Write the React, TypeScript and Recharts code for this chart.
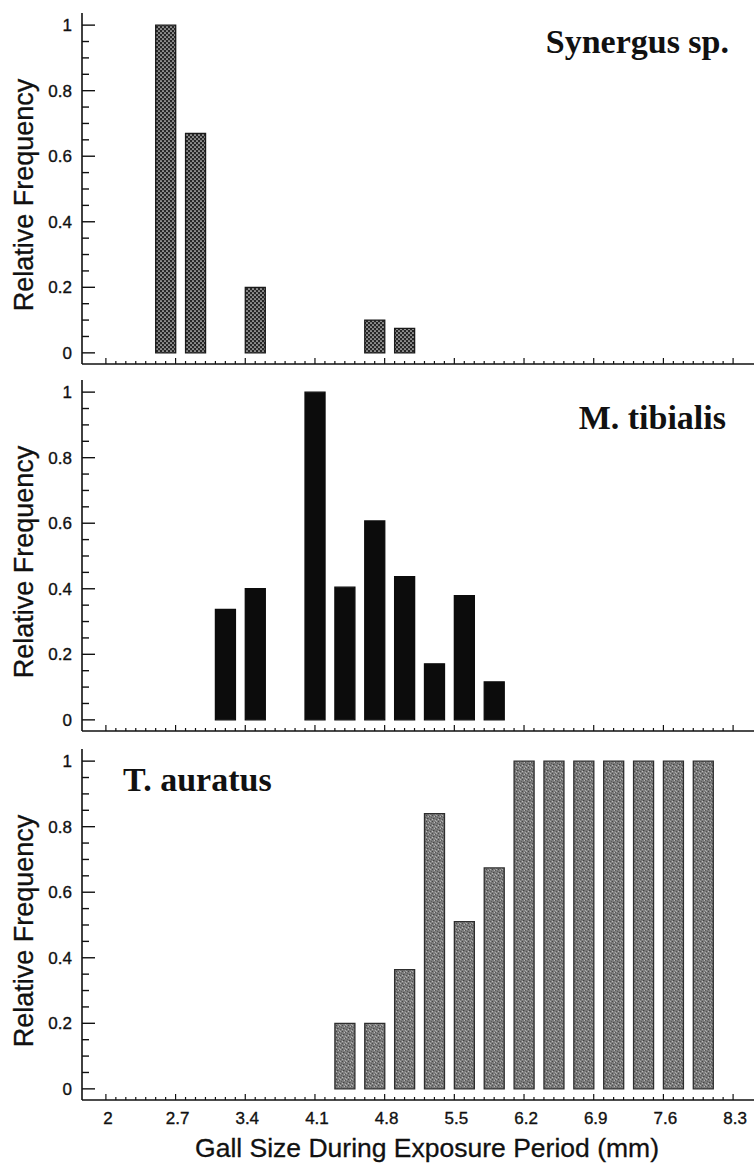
import React from 'react';
import { BarChart, Bar, XAxis, YAxis } from 'recharts';

// axis ticks (gall size in mm, relative frequency)
const sizeMajorTicks = [2, 2.7, 3.4, 4.1, 4.8, 5.5, 6.2, 6.9, 7.6, 8.3];
const sizeAllTicks = Array.from({ length: 64 }, (_, i) => +(2 + i * 0.1).toFixed(1));
const freqMajorTicks = [0, 0.2, 0.4, 0.6, 0.8, 1];
const freqAllTicks = Array.from({ length: 21 }, (_, i) => +(i * 0.05).toFixed(2));

// Synergus sp.
const synergusSize = [2.6, 2.9, 3.5, 4.7, 5.0];
const synergusFreq = [1.0, 0.67, 0.2, 0.1, 0.075];

// M. tibialis
const tibialisSize = [3.2, 3.5, 4.1, 4.4, 4.7, 5.0, 5.3, 5.6, 5.9];
const tibialisFreq = [0.337, 0.4, 1.0, 0.405, 0.607, 0.437, 0.171, 0.379, 0.116];

// T. auratus
const auratusSize = [4.4, 4.7, 5.0, 5.3, 5.6, 5.9, 6.2, 6.5, 6.8, 7.1, 7.4, 7.7, 8.0];
const auratusFreq = [0.2, 0.2, 0.364, 0.84, 0.51, 0.674, 1, 1, 1, 1, 1, 1, 1];

const xDomain: [number, number] = [1.76, 8.51];
const yDomain: [number, number] = [-0.034, 1.037];

const SANS = '"Liberation Sans", Arial, Helvetica, sans-serif';
const SERIF = '"Liberation Serif", "Times New Roman", serif';
const INK = '#111';

const rows = (sizes: number[], freqs: number[]) =>
  sizes.map((x, i) => ({ x, f: freqs[i] }));

const YTick = (props: any) => {
  const { x, y, payload } = props;
  const v = payload.value;
  const major = freqMajorTicks.includes(v);
  return (
    <g>
      <line x1={x} x2={x + (major ? 13 : 7)} y1={y} y2={y} stroke={INK} strokeWidth={1.4} />
      {major && (
        <text x={x - 10} y={y + 6} textAnchor="end" fontFamily={SANS} fontSize={17} fill={INK} stroke={INK} strokeWidth={0.35}>
          {String(v)}
        </text>
      )}
    </g>
  );
};

const makeXTick = (showLabel: boolean) => (props: any) => {
  const { x, y, payload } = props;
  const v = payload.value;
  const major = sizeMajorTicks.includes(v);
  return (
    <g>
      <line x1={x} x2={x} y1={y} y2={y - (major ? 6 : 3)} stroke={INK} strokeWidth={1.2} />
      {major && showLabel && (
        <text x={x + 2} y={y + 24} textAnchor="middle" fontFamily={SANS} fontSize={17} fill={INK} stroke={INK} strokeWidth={0.35}>
          {String(v)}
        </text>
      )}
    </g>
  );
};

const yLabel = (top: number) => ({
  content: () => {
    const cy = top + 182;
    return (
      <text
        x={33}
        y={cy}
        transform={`rotate(-90 33 ${cy})`}
        textAnchor="middle"
        fontFamily={SANS}
        fontSize={27}
        fill={INK}
        stroke={INK}
        strokeWidth={0.3}
      >
        Relative Frequency
      </text>
    );
  },
});

type PanelProps = {
  top: number;
  height: number;
  marginTop: number;
  axisHeight: number;
  data: { x: number; f: number }[];
  fill: string;
  stroke: string;
  showLabels: boolean;
  xTitle?: { x: number; y: number };
  children?: React.ReactNode;
};

function Panel({ top, height, marginTop, axisHeight, data, fill, stroke, showLabels, xTitle, children }: PanelProps) {
  return (
    <div style={{ position: 'absolute', left: 0, top, width: 754, height }}>
      <BarChart width={754} height={height} data={data} margin={{ top: marginTop, right: 0, left: 0, bottom: 0 }}>
        {children}
        <XAxis
          xAxisId="ticks"
          type="number"
          dataKey="x"
          domain={xDomain}
          allowDataOverflow
          ticks={sizeAllTicks}
          interval={0}
          height={axisHeight}
          tickSize={0}
          tickMargin={0}
          tickLine={false}
          tick={makeXTick(showLabels)}
          axisLine={{ stroke: INK, strokeWidth: 1.6 }}
          label={
            xTitle
              ? {
                  content: () => (
                    <text x={xTitle.x} y={xTitle.y} textAnchor="middle" fontFamily={SANS} fontSize={26.5} fill={INK} stroke={INK} strokeWidth={0.3}>
                      Gall Size During Exposure Period (mm)
                    </text>
                  ),
                }
              : undefined
          }
        />
        <XAxis xAxisId="bars" type="number" dataKey="x" domain={xDomain} allowDataOverflow hide height={0} />
        <YAxis
          type="number"
          domain={yDomain}
          allowDataOverflow
          ticks={freqAllTicks}
          interval={0}
          width={82}
          tickSize={0}
          tickMargin={0}
          tickLine={false}
          tick={YTick}
          axisLine={{ stroke: INK, strokeWidth: 1.6 }}
          label={yLabel(marginTop)}
        />
        {/* carries the data for the tick axis; draws nothing */}
        <Bar xAxisId="ticks" dataKey="f" fill="none" stroke="none" isAnimationActive={false} />
        <Bar
          xAxisId="bars"
          dataKey="f"
          barSize={20}
          fill={fill}
          stroke={stroke}
          strokeWidth={1.3}
          isAnimationActive={false}
        />
      </BarChart>
    </div>
  );
}

export default function App() {
  return (
    <div style={{ position: 'absolute', left: 0, top: 0, width: 754, height: 1163, background: '#fff' }}>
      <Panel
        top={0}
        height={370}
        marginTop={13}
        axisHeight={6}
        data={rows(synergusSize, synergusFreq)}
        fill="url(#checkPat)"
        stroke="#1a1a1a"
        showLabels={false}
      >
        <defs>
          <pattern id="checkPat" patternUnits="userSpaceOnUse" width={4} height={4}>
            <rect width={4} height={4} fill="#262626" />
            <circle cx={1} cy={1} r={0.85} fill="#e0e0e0" />
            <circle cx={3} cy={3} r={0.85} fill="#e0e0e0" />
          </pattern>
        </defs>
        <text x={729} y={53} textAnchor="end" fontFamily={SERIF} fontWeight="bold" fontSize={34} fill={INK}>
          Synergus sp.
        </text>
      </Panel>
      <Panel
        top={370}
        height={367}
        marginTop={10}
        axisHeight={6}
        data={rows(tibialisSize, tibialisFreq)}
        fill="#0c0c0c"
        stroke="#0c0c0c"
        showLabels={false}
      >
        <text x={726} y={59} textAnchor="end" fontFamily={SERIF} fontWeight="bold" fontSize={34} fill={INK}>
          M. tibialis
        </text>
      </Panel>
      <Panel
        top={737}
        height={426}
        marginTop={12}
        axisHeight={63}
        data={rows(auratusSize, auratusFreq)}
        fill="url(#grainPat)"
        stroke="#2e2e2e"
        showLabels
        xTitle={{ x: 427, y: 420 }}
      >
        <defs>
          <pattern id="grainPat" patternUnits="userSpaceOnUse" width={6} height={6}>
            <rect width={6} height={6} fill="#7c7c7c" />
            <rect x={0} y={0} width={1} height={1} fill="#4a4a4a" />
            <rect x={3} y={1} width={1} height={1} fill="#545454" />
            <rect x={1} y={3} width={1} height={1} fill="#454545" />
            <rect x={4} y={4} width={1} height={1} fill="#505050" />
            <rect x={5} y={2} width={1} height={1} fill="#5c5c5c" />
            <rect x={2} y={1} width={1} height={1} fill="#b8b8b8" />
            <rect x={4} y={0} width={1} height={1} fill="#b0b0b0" />
            <rect x={0} y={4} width={1} height={1} fill="#bcbcbc" />
            <rect x={3} y={5} width={1} height={1} fill="#aaaaaa" />
            <rect x={2} y={3} width={1} height={1} fill="#666666" />
          </pattern>
        </defs>
        <text x={123} y={54} fontFamily={SERIF} fontWeight="bold" fontSize={34} fill={INK}>
          T. auratus
        </text>
      </Panel>
    </div>
  );
}
